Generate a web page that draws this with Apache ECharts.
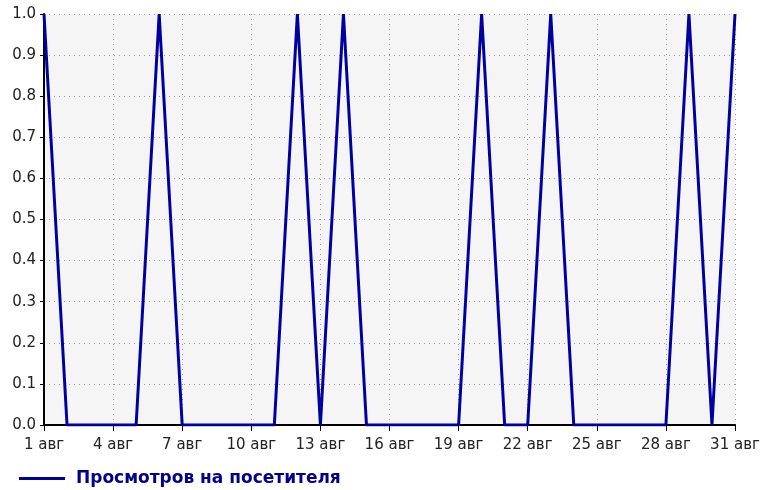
<!DOCTYPE html>
<html><head><meta charset="utf-8">
<script src="https://cdn.jsdelivr.net/npm/echarts@6/dist/echarts.min.js"></script>
<style>html,body{margin:0;padding:0;background:#fff}#c{width:760px;height:490px}</style>
</head><body><div id="c"></div>
<script>
const categories = ['1 авг','2 авг','3 авг','4 авг','5 авг','6 авг','7 авг','8 авг','9 авг','10 авг','11 авг','12 авг','13 авг','14 авг','15 авг','16 авг','17 авг','18 авг','19 авг','20 авг','21 авг','22 авг','23 авг','24 авг','25 авг','26 авг','27 авг','28 авг','29 авг','30 авг','31 авг'];
const views = [1,0,0,0,0,1,0,0,0,0,0,1,0,1,0,0,0,0,0,1,0,0,1,0,0,0,0,0,1,0,1];
const seriesName = 'Просмотров на посетителя';
const chart = echarts.init(document.getElementById('c'));
const axisFont = {fontFamily:'DejaVu Sans, sans-serif', fontSize:15, color:'#222'};
chart.setOption({
  animation:false,
  backgroundColor:'#fff',
  grid:{left:44,right:25,top:14,bottom:65,backgroundColor:'#f5f5f5',show:true,borderWidth:0,outerBoundsMode:'none',containLabel:false},
  legend:{left:14,top:465,icon:'rect',itemWidth:46,itemHeight:3,itemGap:10,
    textStyle:{fontFamily:'DejaVu Sans, sans-serif',fontSize:17,fontWeight:'bold',color:'#00008B',padding:[0,0,0,6]},
    data:[seriesName]},
  xAxis:{type:'category',data:categories,boundaryGap:false,
    axisLine:{lineStyle:{color:'#000',width:2}},
    axisTick:{interval:2,length:6,lineStyle:{color:'#000',width:1}},
    axisLabel:Object.assign({interval:2,margin:13},axisFont),
    splitLine:{show:true,interval:2,lineStyle:{color:'#999',type:[1,4],width:1}}},
  yAxis:{type:'value',min:0,max:1,interval:0.1,
    axisLine:{show:true,lineStyle:{color:'#000',width:2}},
    axisTick:{show:true,length:4,lineStyle:{color:'#000'}},
    axisLabel:Object.assign({margin:8,formatter:v=>v.toFixed(1)},axisFont),
    splitLine:{show:true,lineStyle:{color:'#999',type:[1,4],width:1}}},
  series:[{name:seriesName,type:'line',data:views,symbol:'none',
    lineStyle:{color:'#0000A0',width:3},itemStyle:{color:'#0000A0'}}]
});
</script></body></html>
